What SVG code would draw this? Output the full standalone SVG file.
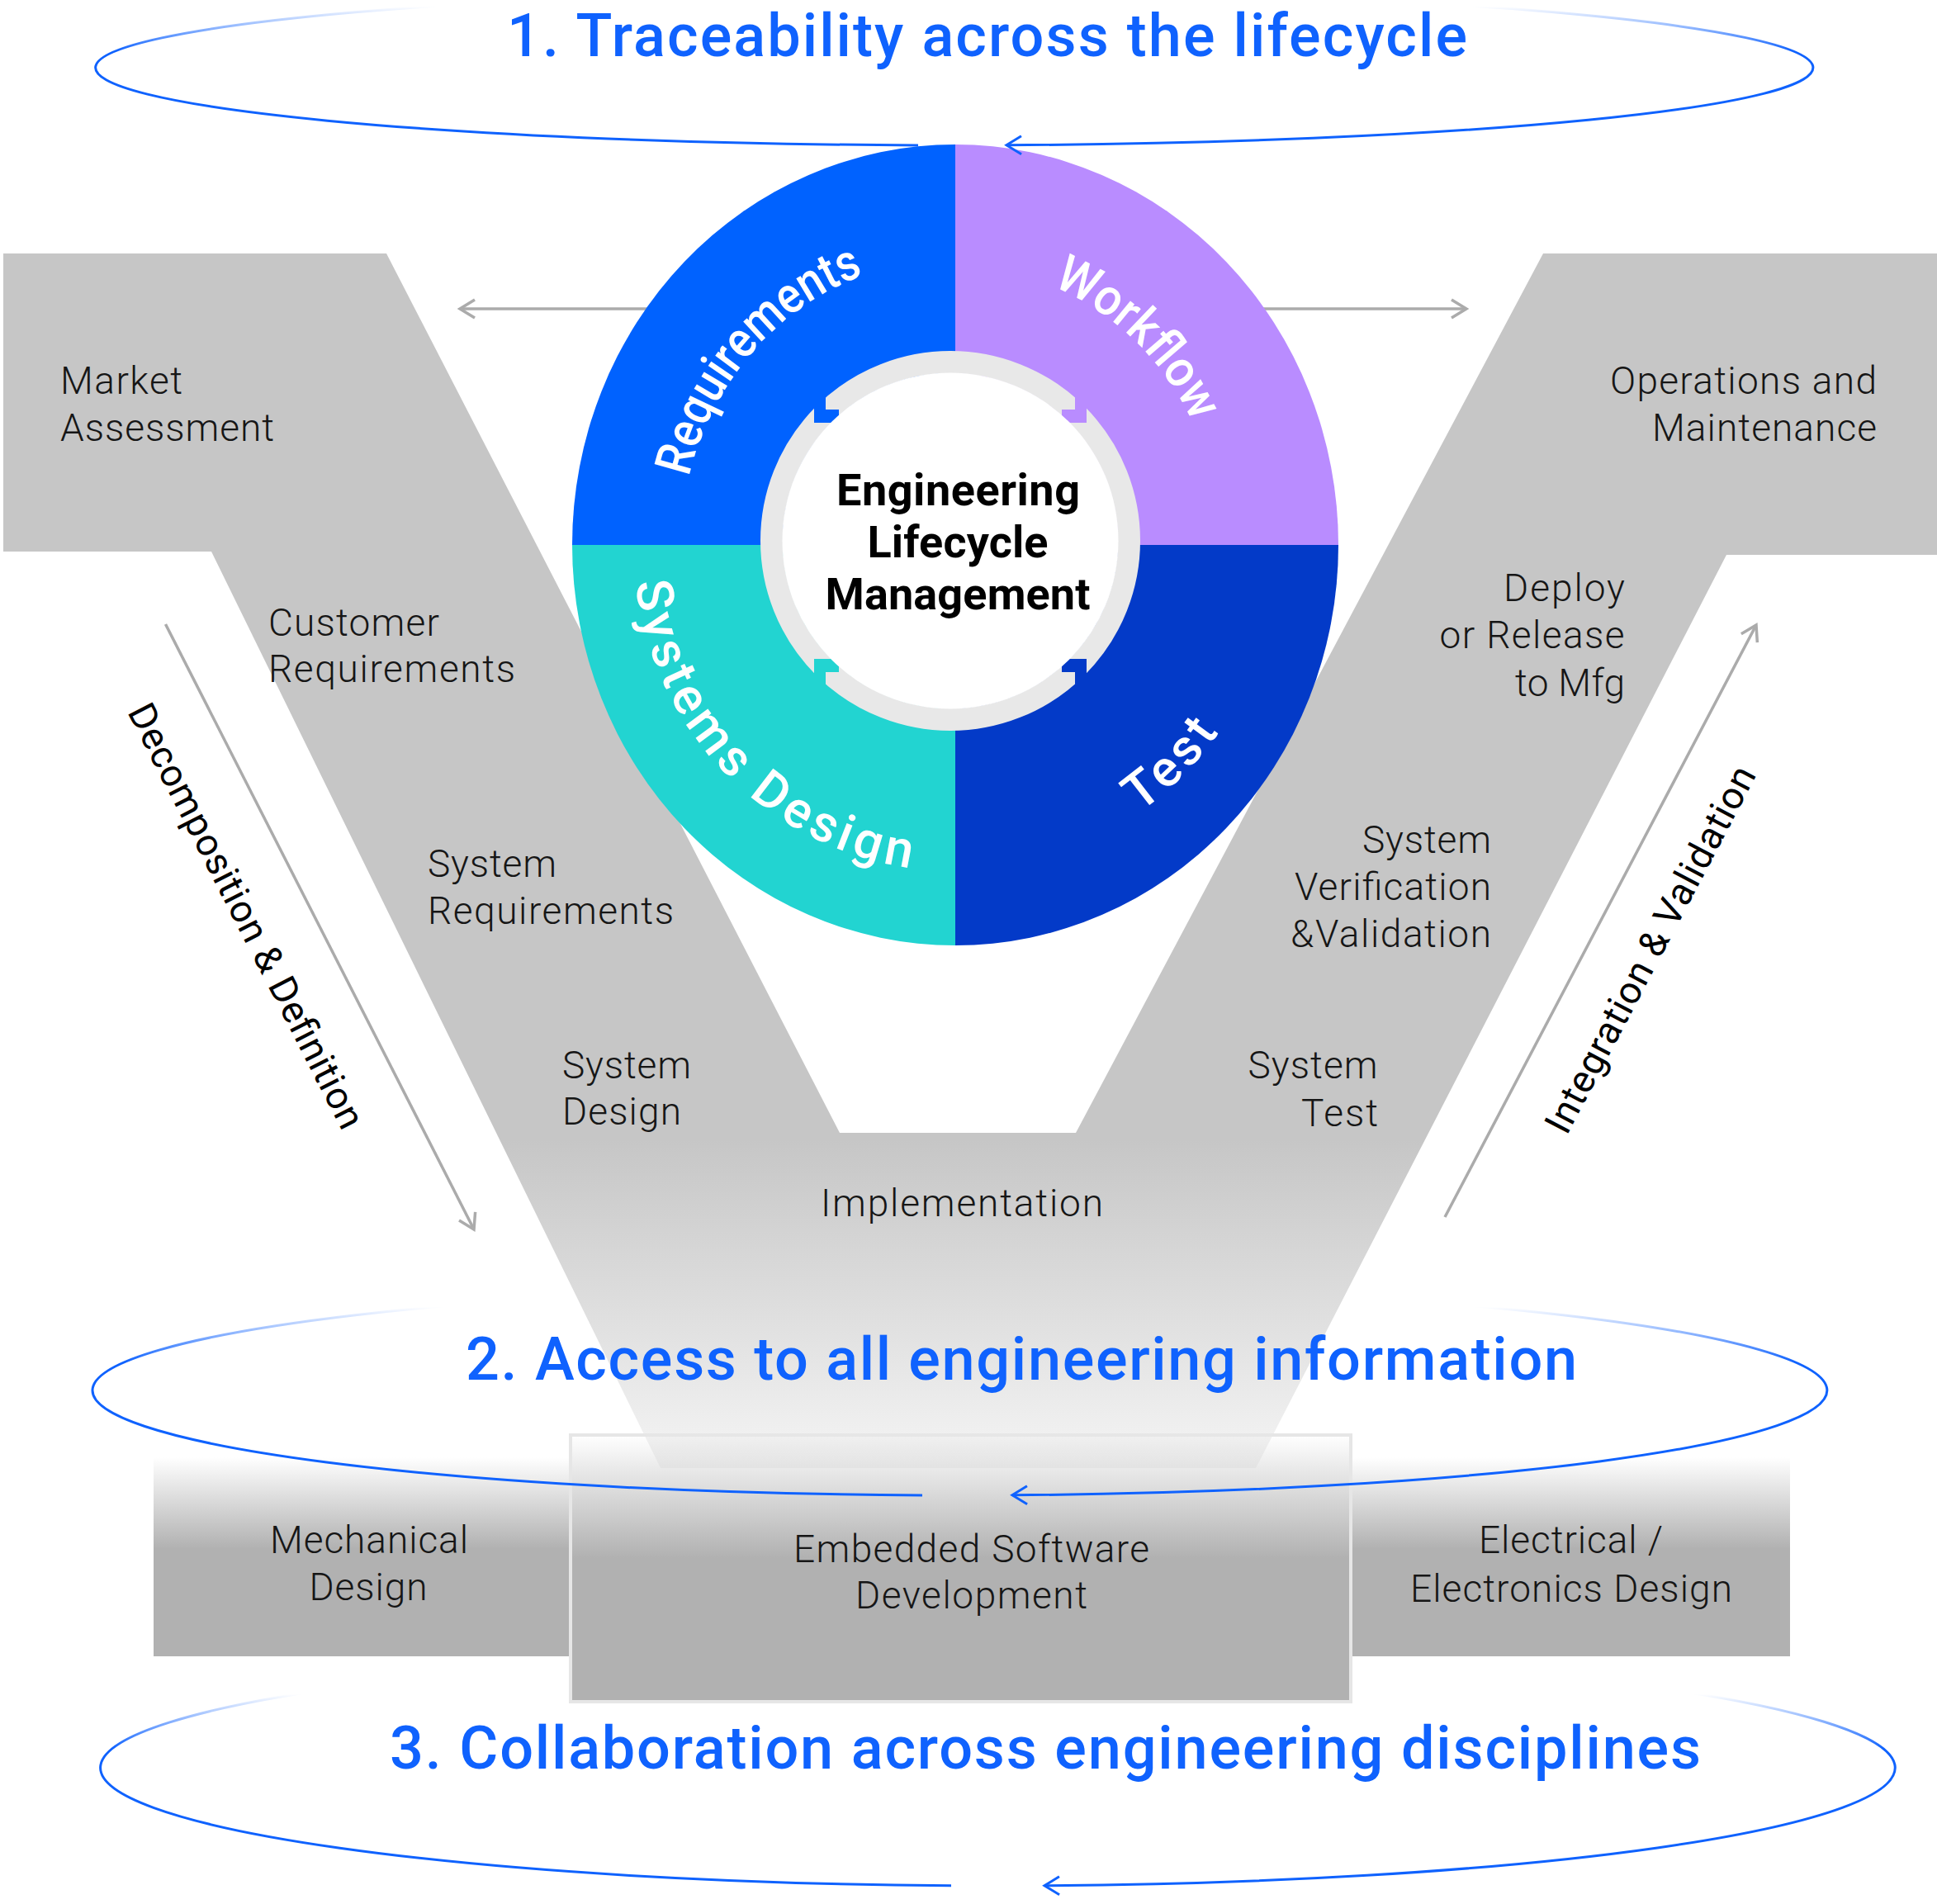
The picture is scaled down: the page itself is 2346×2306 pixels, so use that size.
<svg xmlns="http://www.w3.org/2000/svg" width="2346" height="2306" viewBox="0 0 2346 2306">
<defs>
<style>
.title{font-family:Roboto,"Liberation Sans",sans-serif;font-weight:500;font-size:72px;fill:#0f62fe}
.lbl{font-family:Roboto,"Liberation Sans",sans-serif;font-weight:300;font-size:46px;fill:#161616}
.rot{font-family:Roboto,"Liberation Sans",sans-serif;font-weight:400;font-size:46px;fill:#000}
.arc{font-family:Roboto,"Liberation Sans",sans-serif;font-weight:500;font-size:62px;fill:#fff}
.ctr{font-family:Roboto,"Liberation Sans",sans-serif;font-weight:700;font-size:54px;fill:#000}
.garrow{fill:none;stroke:#ababab;stroke-width:3.5}
.box{fill:url(#boxgrad)}
</style>
<linearGradient id="vgrad" gradientUnits="userSpaceOnUse" x1="0" y1="1380" x2="0" y2="1780">
<stop offset="0" stop-color="#c6c6c6"/><stop offset="1" stop-color="#f5f5f5"/>
</linearGradient>
<linearGradient id="boxgrad" x1="0" y1="0" x2="0" y2="1">
<stop offset="0" stop-color="#b1b1b1" stop-opacity="0"/><stop offset="0.46" stop-color="#b1b1b1" stop-opacity="1"/><stop offset="1" stop-color="#b1b1b1"/>
</linearGradient>
<linearGradient id="e1g" gradientUnits="userSpaceOnUse" x1="0" y1="8" x2="0" y2="62">
<stop offset="0" stop-color="#0f62fe" stop-opacity="0"/><stop offset="1" stop-color="#0f62fe"/>
</linearGradient>
<linearGradient id="e2g" gradientUnits="userSpaceOnUse" x1="0" y1="1583" x2="0" y2="1650">
<stop offset="0" stop-color="#0f62fe" stop-opacity="0"/><stop offset="1" stop-color="#0f62fe"/>
</linearGradient>
<linearGradient id="e3g" gradientUnits="userSpaceOnUse" x1="0" y1="2052" x2="0" y2="2118">
<stop offset="0" stop-color="#0f62fe" stop-opacity="0"/><stop offset="1" stop-color="#0f62fe"/>
</linearGradient>
<marker id="mBlue" markerUnits="userSpaceOnUse" markerWidth="30" markerHeight="30" viewBox="0 0 30 30" refX="24" refY="15" orient="auto-start-reverse">
<path d="M6,4 L24,15 L6,26" fill="none" stroke="#0f62fe" stroke-width="3"/>
</marker>
<marker id="mGray" markerUnits="userSpaceOnUse" markerWidth="30" markerHeight="30" viewBox="0 0 30 30" refX="24" refY="15" orient="auto">
<path d="M6,4 L24,15 L6,26" fill="none" stroke="#ababab" stroke-width="3.5"/>
</marker>
<path id="pReq" d="M834.5,577.8 A332,347 0 0 1 1046.2,332.9"/>
<path id="pWf" d="M1274.3,346.5 A320,337 0 0 1 1444.4,511.7"/>
<path id="pSd" d="M769.6,705.4 A390,395 0 0 0 1102.7,1051.2"/>
<path id="pTest" d="M1380.1,984 A390,395 0 0 0 1476.1,887.1"/>
</defs>

<rect width="2346" height="2306" fill="#fff"/>

<!-- V shape -->
<g id="vshape">
<path d="M4,307 L468,307 L1017,1372 L1303,1372 L1869,307 L2346,307 L2346,672 L2091,672 L1521,1778 L800,1778 L256,668 L4,668 Z" fill="url(#vgrad)"/>
</g>

<!-- discipline boxes -->
<g id="mechanical">
<rect class="box" x="186" y="1765" width="504" height="241"/>
<text class="lbl" x="327" y="1880.6" textLength="240">Mechanical</text>
<text class="lbl" x="374.5" y="1938" textLength="143">Design</text>
</g>
<g id="electrical">
<rect class="box" x="1637" y="1765" width="531" height="241"/>
<text class="lbl" x="1791" y="1880.6" textLength="223">Electrical /</text>
<text class="lbl" x="1708" y="1939.7" textLength="390">Electronics Design</text>
</g>
<g id="embedded">
<rect x="691" y="1738" width="945" height="323" fill="url(#boxgrad)" stroke="#e6e6e6" stroke-width="4"/>
<text class="lbl" x="961" y="1891.5" textLength="431">Embedded Software</text>
<text class="lbl" x="1036" y="1948" textLength="281">Development</text>
</g>

<!-- connectors -->
<g id="connectors">
<path class="garrow" d="M790,374 L557,374" marker-end="url(#mGray)"/>
<path class="garrow" d="M1520,374 L1776,374" marker-end="url(#mGray)"/>
<path class="garrow" d="M200.5,756 L574,1489" marker-end="url(#mGray)"/>
<path class="garrow" d="M1750,1474 L2127,757" marker-end="url(#mGray)"/>
</g>

<!-- ELM wheel -->
<g id="wheel">
<path id="q-req" d="M1157,660 L693,660 A464,485 0 0 1 1157,175 Z" fill="#0062ff"/>
<path id="q-wf" d="M1157,660 L1157,175 A464,485 0 0 1 1621,660 Z" fill="#b98cff"/>
<path id="q-test" d="M1157,660 L1621,660 A464,485 0 0 1 1157,1145 Z" fill="#033ac8"/>
<path id="q-sd" d="M1157,660 L1157,1145 A464,485 0 0 1 693,660 Z" fill="#22d4d1"/>
<circle cx="1151" cy="655" r="216.5" fill="none" stroke="#e8e8e8" stroke-width="27"/>
<path d="M986,470 L1000,470 L1000,496 L1016,496 L1016,512 L986,512 Z" fill="#0062ff"/>
<path d="M1316,470 L1302,470 L1302,496 L1286,496 L1286,512 L1316,512 Z" fill="#b98cff"/>
<path d="M1316,840 L1302,840 L1302,814 L1286,814 L1286,798 L1316,798 Z" fill="#033ac8"/>
<path d="M986,840 L1000,840 L1000,814 L1016,814 L1016,798 L986,798 Z" fill="#22d4d1"/>
<circle cx="1151" cy="655" r="203.5" fill="#fff"/>
</g>
<g id="requirements"><text class="arc"><textPath href="#pReq" startOffset="50%" text-anchor="middle" textLength="337" lengthAdjust="spacingAndGlyphs">Requirements</textPath></text></g>
<g id="workflow"><text class="arc"><textPath href="#pWf" startOffset="50%" text-anchor="middle" textLength="243" lengthAdjust="spacingAndGlyphs">Workflow</textPath></text></g>
<g id="systems-design"><text class="arc"><textPath href="#pSd" startOffset="50%" text-anchor="middle" textLength="516">Systems Design</textPath></text></g>
<g id="test"><text class="arc"><textPath href="#pTest" startOffset="50%" text-anchor="middle" textLength="137">Test</textPath></text></g>
<g id="elm-center">
<text class="ctr" x="1013" y="611.7" textLength="295">Engineering</text>
<text class="ctr" x="1050.5" y="675" textLength="219">Lifecycle</text>
<text class="ctr" x="999.5" y="738" textLength="321">Management</text>
</g>

<!-- V labels -->
<g id="market-assessment">
<text class="lbl" x="73" y="477" textLength="148">Market</text>
<text class="lbl" x="73" y="533.5" textLength="259">Assessment</text>
</g>
<g id="operations">
<text class="lbl" x="1950" y="477" textLength="323">Operations and</text>
<text class="lbl" x="2001" y="533.5" textLength="272">Maintenance</text>
</g>
<g id="customer-req">
<text class="lbl" x="325" y="770" textLength="207">Customer</text>
<text class="lbl" x="325" y="826" textLength="299">Requirements</text>
</g>
<g id="system-req">
<text class="lbl" x="518" y="1062" textLength="156">System</text>
<text class="lbl" x="518" y="1119" textLength="298">Requirements</text>
</g>
<g id="system-design">
<text class="lbl" x="681" y="1305.6" textLength="156">System</text>
<text class="lbl" x="681" y="1362" textLength="144">Design</text>
</g>
<g id="implementation">
<text class="lbl" x="994" y="1473" textLength="342">Implementation</text>
</g>
<g id="system-test">
<text class="lbl" x="1511.5" y="1306" textLength="157">System</text>
<text class="lbl" x="1576" y="1363.5" textLength="93">Test</text>
</g>
<g id="system-vv">
<text class="lbl" x="1650" y="1033" textLength="156">System</text>
<text class="lbl" x="1568" y="1090" textLength="238">Verification</text>
<text class="lbl" x="1563" y="1146.6" textLength="243">&amp;Validation</text>
</g>
<g id="deploy">
<text class="lbl" x="1821" y="728" textLength="147">Deploy</text>
<text class="lbl" x="1743.5" y="785" textLength="224">or Release</text>
<text class="lbl" x="1835" y="843" textLength="133">to Mfg</text>
</g>
<g id="decomposition">
<text class="rot" x="153.8" y="861.9" transform="rotate(62.85 153.8 861.9)" textLength="572">Decomposition &amp; Definition</text>
</g>
<g id="integration">
<text class="rot" x="1897.4" y="1376.2" transform="rotate(-62.26 1897.4 1376.2)" textLength="495">Integration &amp; Validation</text>
</g>

<!-- loops and titles -->
<g id="loops">
<path d="M1112,175.9 A1044.5,94 0 0 1 1159.5,-12" fill="none" stroke="url(#e1g)" stroke-width="3"/>
<path d="M1219,175.8 A1044.5,94 0 0 0 1159.5,-12" fill="none" stroke="url(#e1g)" stroke-width="3" marker-start="url(#mBlue)"/>
<path d="M1117,1810.9 A1045.5,127 0 0 1 1166.5,1557" fill="none" stroke="url(#e2g)" stroke-width="3"/>
<path d="M1226,1810.8 A1045.5,127 0 0 0 1166.5,1557" fill="none" stroke="url(#e2g)" stroke-width="3" marker-start="url(#mBlue)"/>
<path d="M1152,2283.8 A1087.5,143 0 0 1 1202.5,1998" fill="none" stroke="url(#e3g)" stroke-width="3"/>
<path d="M1265,2283.8 A1087.5,143 0 0 0 1202.5,1998" fill="none" stroke="url(#e3g)" stroke-width="3" marker-start="url(#mBlue)"/>
</g>
<g id="title-1"><text class="title" x="614" y="68" textLength="1163">1. Traceability across the lifecycle</text></g>
<g id="title-2"><text class="title" x="564" y="1671" textLength="1346">2. Access to all engineering information</text></g>
<g id="title-3"><text class="title" x="472" y="2142" textLength="1588">3. Collaboration across engineering disciplines</text></g>
</svg>
